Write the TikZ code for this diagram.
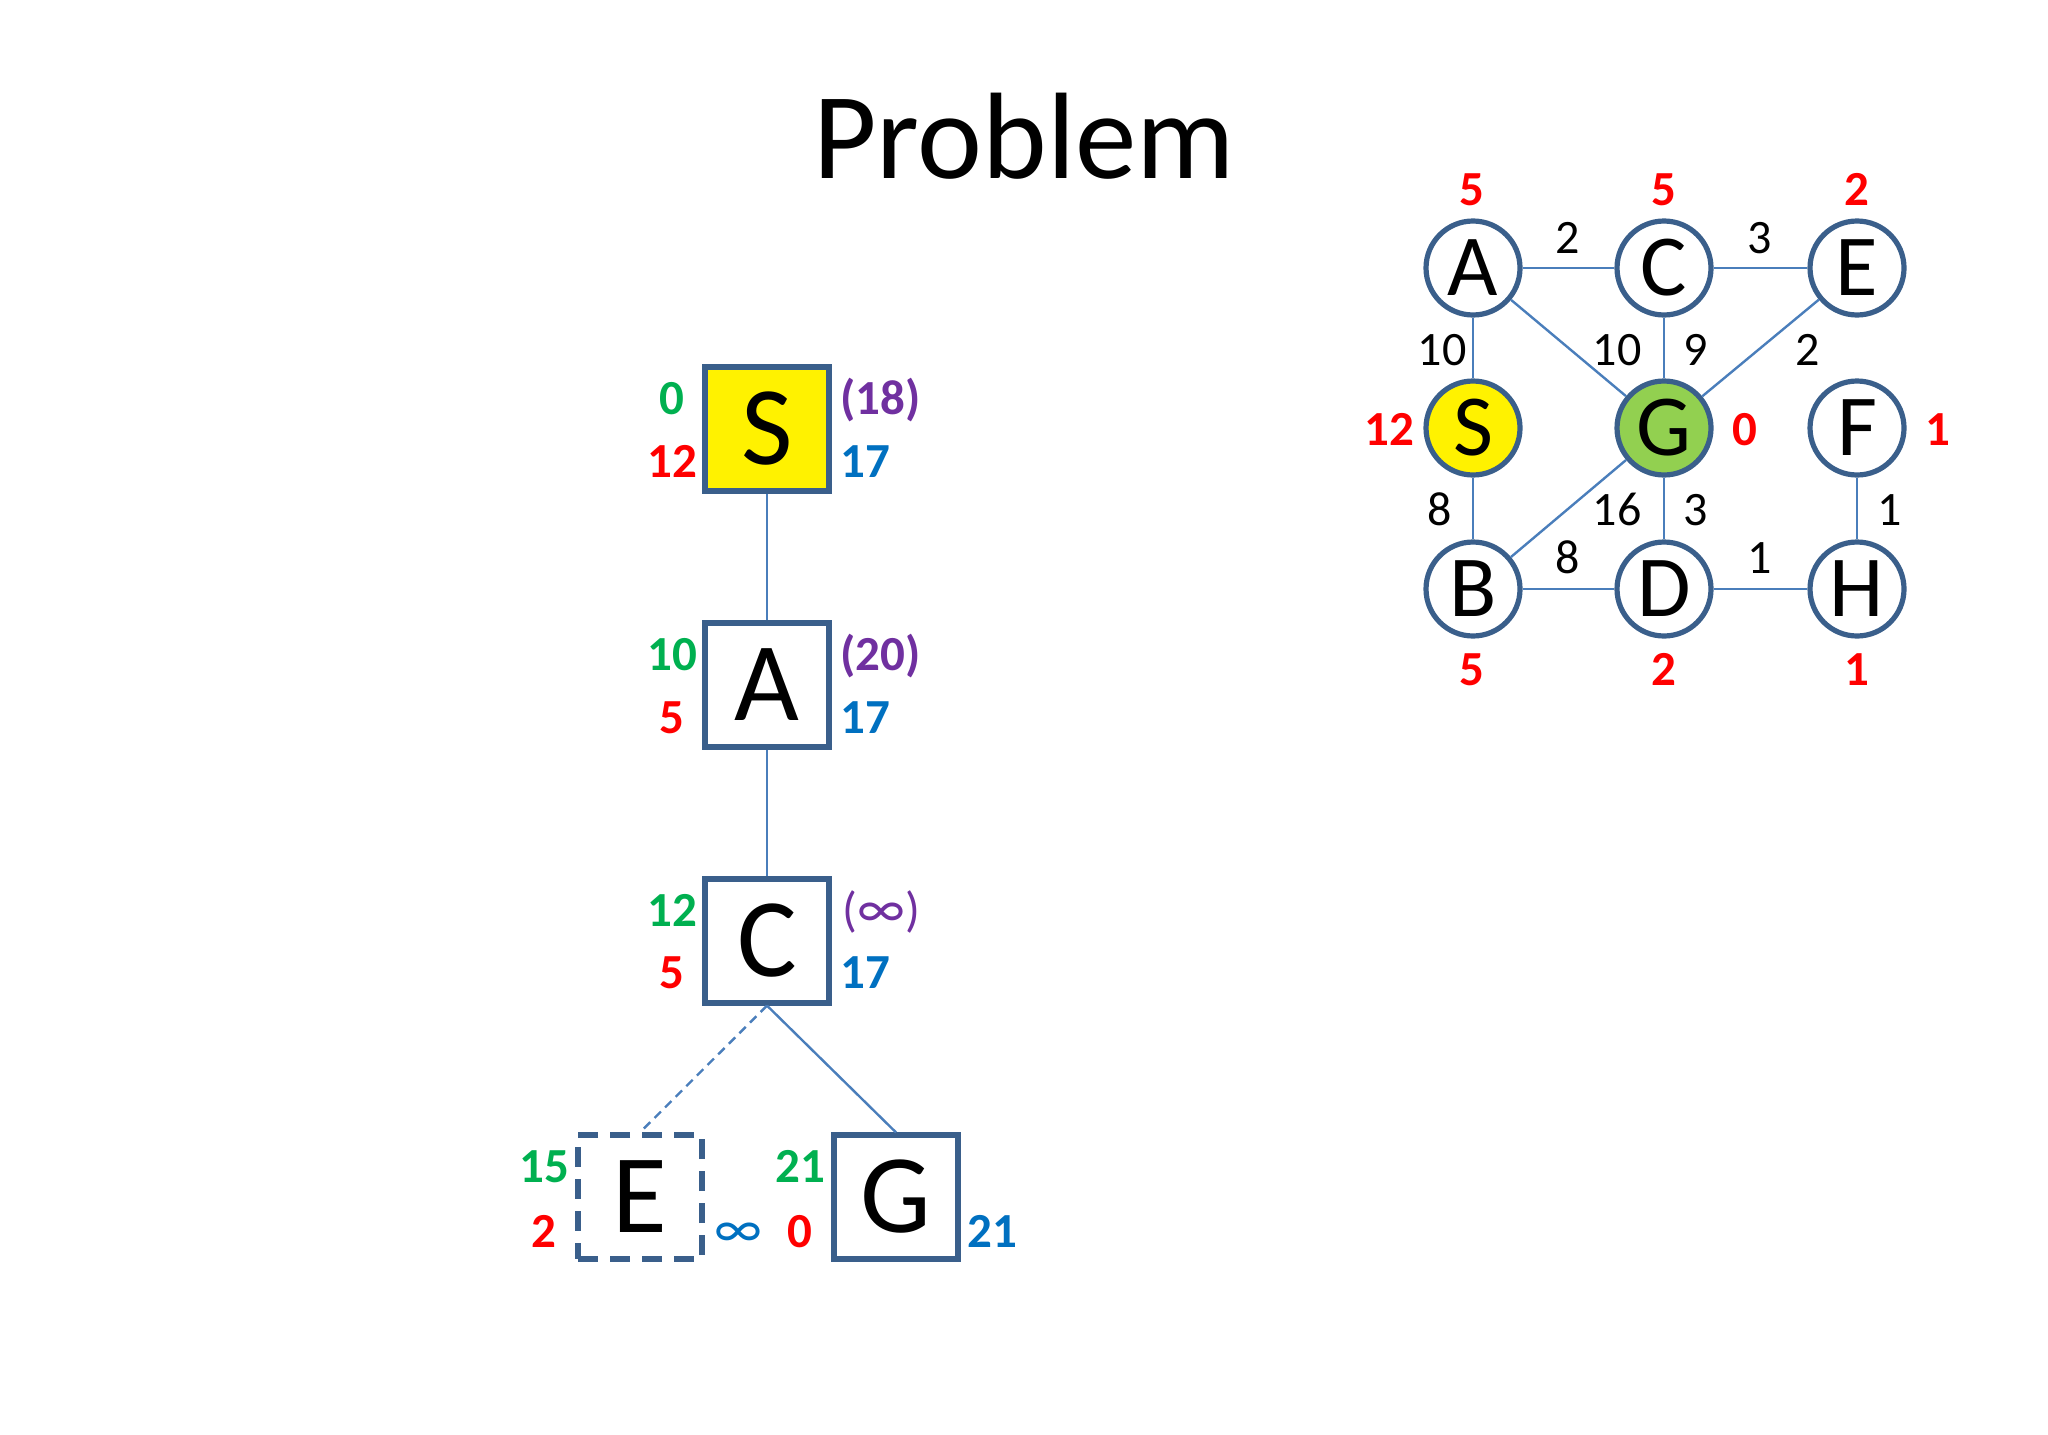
\documentclass[tikz,border=0pt]{standalone}
\usepackage{fontspec}
\setmainfont{Carlito}
\definecolor{boxc}{HTML}{3A5F8B}
\definecolor{edgec}{HTML}{4A7EBB}
\definecolor{lgreen}{HTML}{00B050}
\definecolor{lred}{HTML}{FF0000}
\definecolor{lpurple}{HTML}{7030A0}
\definecolor{lblue}{HTML}{0070C0}
\definecolor{gfill}{HTML}{92D050}
\begin{document}
\begin{tikzpicture}[x=0.5pt,y=-0.5pt,
  tbox/.style={draw=boxc, fill=white, line width=2.6pt, minimum size=62pt, inner sep=0pt, font=\fontsize{56}{56}\selectfont},
  dashbox/.style={dash pattern=on 10pt off 6pt},
  gnode/.style={circle, draw=boxc, fill=white, line width=2.6pt, minimum size=47pt, inner sep=0pt, font=\fontsize{43.5}{43.5}\selectfont},
  tedge/.style={draw=edgec, line width=1.2pt},
  lab/.style={inner sep=0pt, anchor=base, font=\fontsize{24.5}{24.5}\selectfont\bfseries},
  labw/.style={lab, anchor=base west},
  labe/.style={lab, anchor=base east},
  wt/.style={inner sep=0pt, anchor=base, font=\fontsize{24}{24}\selectfont}
]
\useasboundingbox (0,0) rectangle (2048,1434);

% title
\node[anchor=base, inner sep=0pt, font=\fontsize{61.5}{61.5}\selectfont] (title) at (1024,178) {Problem};

% ---------- search tree ----------
\node[tbox, fill=yellow] (tS) at (767,429) {S};
\node[tbox] (tA) at (767,685) {A};
\node[tbox] (tC) at (767,941) {C};
\node[tbox, dashbox] (tE) at (640,1197) {E};
\node[tbox] (tG) at (896,1197) {G};

\draw[tedge] (tS) -- (tA);
\draw[tedge] (tA) -- (tC);
\draw[tedge, dash pattern=on 4.5pt off 3pt] (tC.south) -- (tE.north);
\draw[tedge] (tC.south) -- (tG.north);

\node[lab, text=lgreen] (sg) at (672,414) {0};
\node[lab, text=lred] (sr) at (672,477) {12};
\node[labw, text=lpurple] (sp) at (840,414) {(18)};
\node[labw, text=lblue] (sb) at (840,477) {17};

\node[lab, text=lgreen] (ag) at (672,670) {10};
\node[lab, text=lred] (ar) at (672,733) {5};
\node[labw, text=lpurple] (ap) at (840,670) {(20)};
\node[labw, text=lblue] (ab) at (840,733) {17};

\node[lab, text=lgreen] (cg) at (672,926) {12};
\node[lab, text=lred] (cr) at (672,988) {5};
\node[labw, text=lpurple, font=\fontsize{24.5}{24.5}\selectfont] (cp) at (842,926) {(\raisebox{-0.5pt}{\fontsize{28}{28}\selectfont ∞})};
\node[labw, text=lblue] (cb) at (840,988) {17};

\node[lab, text=lgreen] (eg) at (544,1182) {15};
\node[lab, text=lred] (er) at (544,1247) {2};
\node[labw, text=lblue, font=\fontsize{28}{28}\selectfont] (eb) at (714,1247) {∞};

\node[lab, text=lgreen] (gg) at (800,1182) {21};
\node[lab, text=lred] (gr) at (800,1247) {0};
\node[labw, text=lblue] (gb) at (967,1247) {21};

% ---------- graph ----------
\node[gnode] (A) at (1473,268) {A};
\node[gnode] (C) at (1664,268) {C};
\node[gnode] (E) at (1857,268) {E};
\node[gnode, fill=yellow] (S) at (1473,428) {S};
\node[gnode, fill=gfill] (G) at (1664,428) {G};
\node[gnode] (F) at (1857,428) {F};
\node[gnode] (B) at (1473,589) {B};
\node[gnode] (D) at (1664,589) {D};
\node[gnode] (H) at (1857,589) {H};

\draw[tedge] (A) -- (C);
\draw[tedge] (C) -- (E);
\draw[tedge] (A) -- (S);
\draw[tedge] (A) -- (G);
\draw[tedge] (C) -- (G);
\draw[tedge] (E) -- (G);
\draw[tedge] (S) -- (B);
\draw[tedge] (G) -- (B);
\draw[tedge] (G) -- (D);
\draw[tedge] (B) -- (D);
\draw[tedge] (D) -- (H);
\draw[tedge] (F) -- (H);

% heuristic values
\node[lab, text=lred] (hA) at (1472,205) {5};
\node[lab, text=lred] (hC) at (1664,205) {5};
\node[lab, text=lred] (hE) at (1857,205) {2};
\node[labe, text=lred] (hS) at (1415,445) {12};
\node[lab, text=lred] (hG) at (1745,445) {0};
\node[lab, text=lred] (hF) at (1938,445) {1};
\node[lab, text=lred] (hB) at (1472,685) {5};
\node[lab, text=lred] (hD) at (1664,685) {2};
\node[lab, text=lred] (hH) at (1857,685) {1};

% edge weights
\node[wt] (wAC) at (1568,253) {2};
\node[wt] (wCE) at (1760,253) {3};
\node[wt] (wAS) at (1442,365) {10};
\node[wt] (wAG) at (1617,365) {10};
\node[wt] (wCG) at (1696,365) {9};
\node[wt] (wEG) at (1808,365) {2};
\node[wt] (wSB) at (1440,525) {8};
\node[wt] (wGB) at (1617,525) {16};
\node[wt] (wGD) at (1696,525) {3};
\node[wt] (wFH) at (1890,525) {1};
\node[wt] (wBD) at (1568,573) {8};
\node[wt] (wDH) at (1760,573) {1};
\end{tikzpicture}
\end{document}
